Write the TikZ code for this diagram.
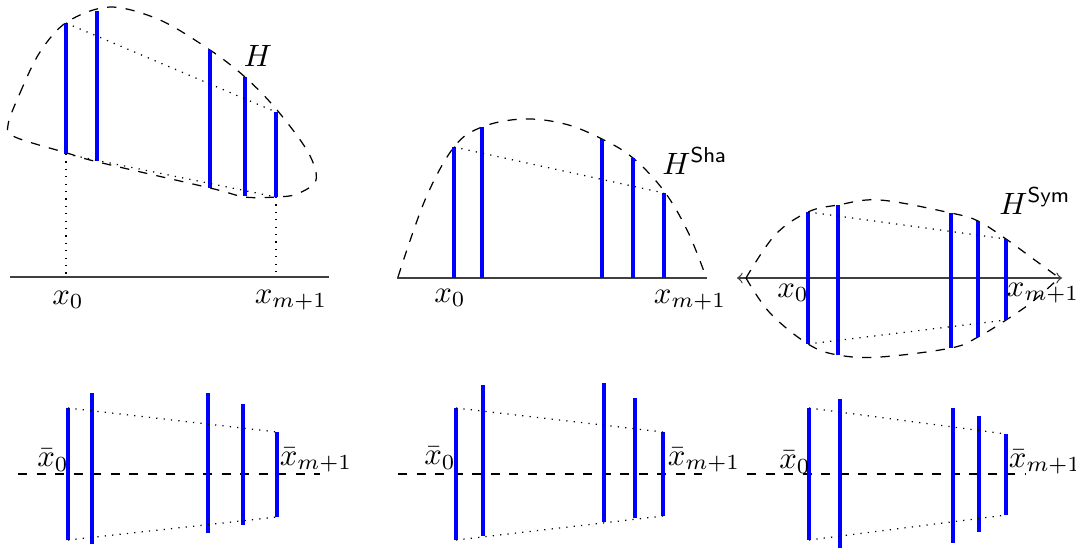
\documentclass[tikz,border=0pt]{standalone}
\usepackage{amsmath}
\begin{document}
\begin{tikzpicture}[x=0.0114cm, y=-0.0114cm,
    seg/.style={blue, line width=1pt},
    hull/.style={dashed},
    chord/.style={dotted},
    axis/.style={black!75}]
    \useasboundingbox (0,0) rectangle (1076,548);

    %% ---- H (general hull) ----
    \draw[axis] (10,277) -- (329,277);
    \draw[hull] plot[smooth cycle, tension=0.55] coordinates {
      (8,125) (20,93) (40,52) (67,22) (110,7) (160,20) (210,50) (245,77) (277,110)
      (308,152) (316,180) (297,194) (276,197) (245,197) (210,188) (98,162)
      (67,153) (15,137)};
    \foreach \i/\x/\a/\b in {1/66/23/154, 2/97/11/161, 3/210/50/188, 4/245/77/196, 5/276/112/197}
      \draw[seg] (\x,\a) coordinate (Ht\i) -- (\x,\b) coordinate (Hb\i);
    \draw[chord] (Ht1) -- (Ht5);
    \draw[chord] (Hb1) -- (Hb5);
    \draw[chord] (Hb1) -- (66,277) coordinate (Hx0);
    \draw[chord] (Hb5) -- (276,277) coordinate (Hx1);
    \node (labH) at (258,56) {$H$};
    \node (Hl0) at (68,300) {$x_0$};
    \node (Hl1) at (291,300) {$x_{m+1}$};

    %% ---- H^Sha ----
    \draw[axis] (397,278) -- (707,278);
    \draw[hull] plot[smooth, tension=0.6] coordinates {
      (398,277) (425,200) (454,147) (482,127) (523,119) (565,124) (602,139)
      (633,158) (664,191) (688,232) (706,277)};
    \foreach \i/\x/\a in {1/454/147, 2/482/127, 3/602/139, 4/633/158, 5/664/193}
      \draw[seg] (\x,\a) coordinate (St\i) -- (\x,278);
    \draw[chord] (St1) -- (St5);
    \node (labS) at (695,161) {$H^{\mathsf{Sha}}$};
    \node (Sl0) at (450,298) {$x_0$};
    \node (Sl1) at (690,300) {$x_{m+1}$};

    %% ---- H^Sym ----
    \draw[axis, <->] (737,278) -- (1062,278);
    \draw[hull] plot[smooth, tension=0.6] coordinates {
      (746,278) (775,235) (808,212) (838,205) (880,200) (951,213) (978,221)
      (1006,239) (1032,258) (1058,277)};
    \draw[hull] plot[smooth, tension=0.6] coordinates {
      (746,278) (770,313) (808,344) (838,355) (880,357) (951,348) (978,337)
      (1006,320) (1032,302) (1058,279)};
    \foreach \i/\x/\a/\b in {1/808/212/344, 2/838/205/355, 3/951/213/348, 4/978/221/337, 5/1006/239/320}
      \draw[seg] (\x,\a) coordinate (Yt\i) -- (\x,\b) coordinate (Yb\i);
    \draw[chord] (Yt1) -- (Yt5);
    \draw[chord] (Yb1) -- (Yb5);
    \node (labY) at (1035,201) {$H^{\mathsf{Sym}}$};
    \node (Yl0) at (793,293) {$x_0$};
    \node (Yl1) at (1043,293) {$x_{m+1}$};

    %% ---- symmetrised bars ----
    \draw[hull] (18,474) -- (320,474);
    \foreach \i/\x/\a/\b in {1/68/408/540, 2/92/393/544, 3/208/393/533, 4/243/404/525, 5/277/432/517}
      \draw[seg] (\x,\a) coordinate (bHt\i) -- (\x,\b) coordinate (bHb\i);
    \draw[chord] (bHt1) -- (bHt5);
    \draw[chord] (bHb1) -- (bHb5);
    \node (bHl0) at (53,460) {$\bar{x}_0$};
    \node (bHl1) at (316,460) {$\bar{x}_{m+1}$};

    \draw[hull] (398,474) -- (702,474);
    \foreach \i/\x/\a/\b in {1/456/408/540, 2/483/385/536, 3/604/383/522, 4/635/398/518, 5/663/432/516}
      \draw[seg] (\x,\a) coordinate (bSt\i) -- (\x,\b) coordinate (bSb\i);
    \draw[chord] (bSt1) -- (bSt5);
    \draw[chord] (bSb1) -- (bSb5);
    \node (bSl0) at (440,458) {$\bar{x}_0$};
    \node (bSl1) at (704,460) {$\bar{x}_{m+1}$};

    \draw[hull] (747,474) -- (1025,474);
    \foreach \i/\x/\a/\b in {1/809/408/540, 2/840/399/548, 3/953/408/543, 4/979/416/532, 5/1006/434/515}
      \draw[seg] (\x,\a) coordinate (bYt\i) -- (\x,\b) coordinate (bYb\i);
    \draw[chord] (bYt1) -- (bYt5);
    \draw[chord] (bYb1) -- (bYb5);
    \node (bYl0) at (795,462) {$\bar{x}_0$};
    \node (bYl1) at (1045,462) {$\bar{x}_{m+1}$};
\end{tikzpicture}
\end{document}
